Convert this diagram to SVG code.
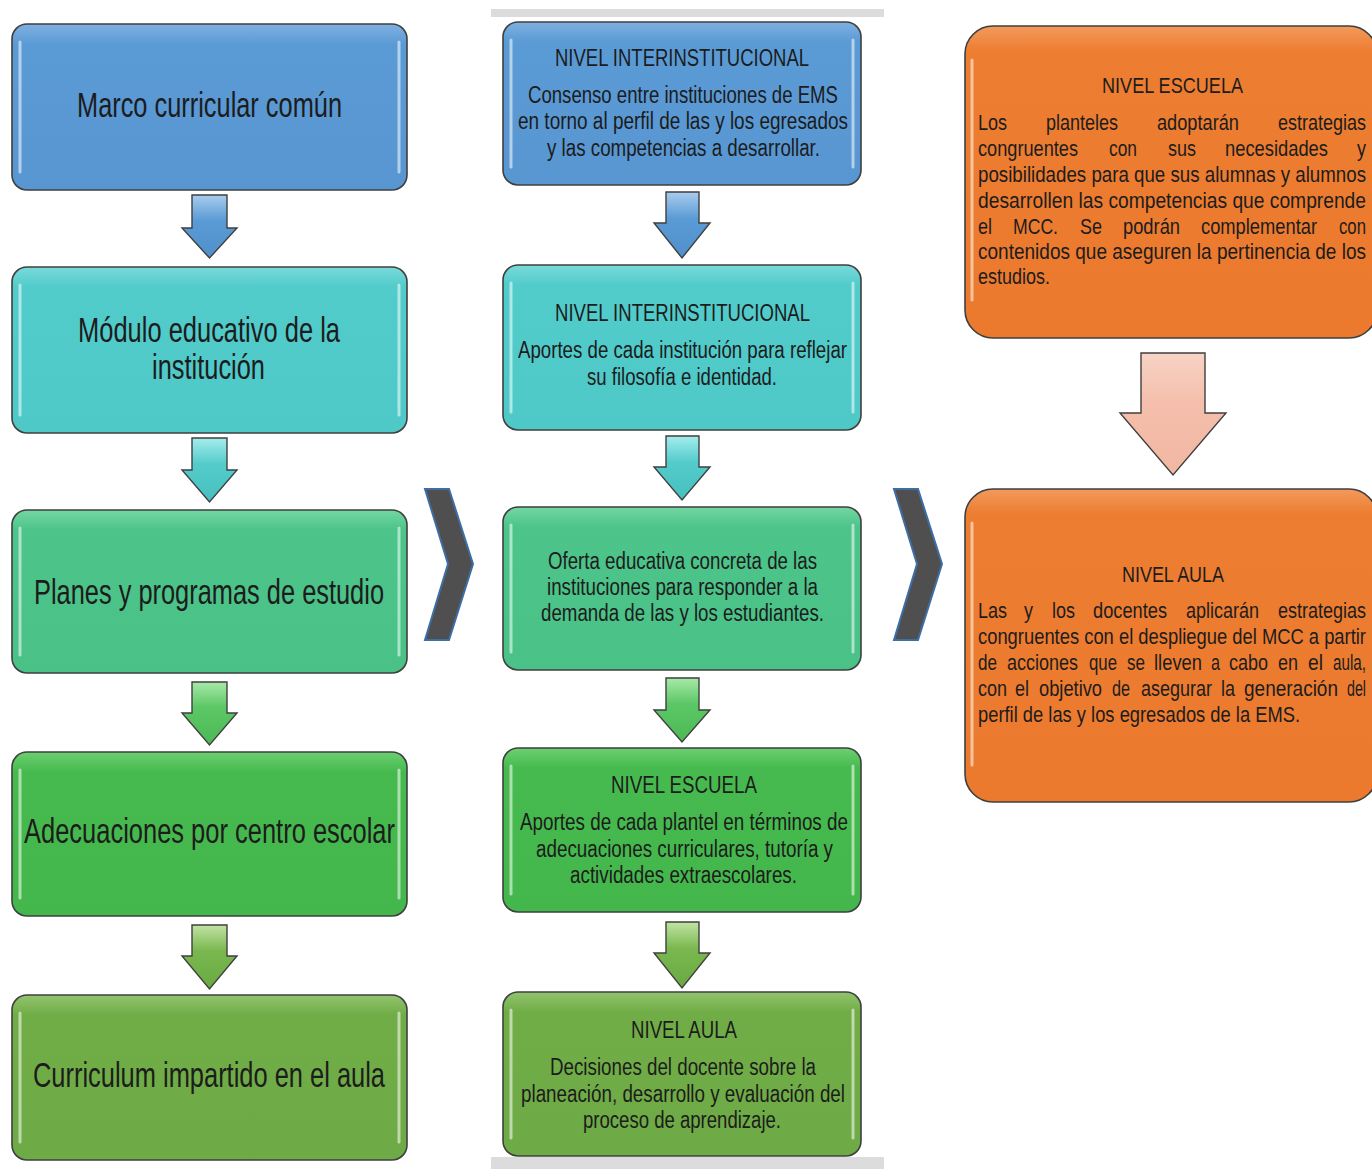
<svg xmlns="http://www.w3.org/2000/svg" width="1372" height="1169" viewBox="0 0 1372 1169">
<style>
.box{stroke:#3f3f3f;stroke-width:1.6}
.hl{stroke:#ffffff;stroke-opacity:0.55;stroke-width:3;stroke-linecap:round;fill:none}
.arr{stroke:#3f3f3f;stroke-width:1.4}
.t{font-family:"Liberation Sans",Arial,sans-serif;fill:#1c1c1c}
.big{font-size:35px}
.mid{font-size:23px}
.sm{font-size:22px}
.chev{fill:#4f4f4f;stroke:#3d6fa6;stroke-width:2}
.bar{fill:#dcdcdc}
</style>
<defs>
<linearGradient id="gBlue" x1="0" y1="0" x2="0" y2="1"><stop offset="0" stop-color="#7fb0e0"/><stop offset="0.12" stop-color="#5b9bd5"/><stop offset="1" stop-color="#5896d2"/></linearGradient>
<linearGradient id="gTeal" x1="0" y1="0" x2="0" y2="1"><stop offset="0" stop-color="#7adada"/><stop offset="0.12" stop-color="#52cbcb"/><stop offset="1" stop-color="#4fc8c8"/></linearGradient>
<linearGradient id="gMint" x1="0" y1="0" x2="0" y2="1"><stop offset="0" stop-color="#74d6a4"/><stop offset="0.12" stop-color="#4dc48a"/><stop offset="1" stop-color="#4ac187"/></linearGradient>
<linearGradient id="gGreen" x1="0" y1="0" x2="0" y2="1"><stop offset="0" stop-color="#6cd070"/><stop offset="0.12" stop-color="#47ba4f"/><stop offset="1" stop-color="#44b74c"/></linearGradient>
<linearGradient id="gOlive" x1="0" y1="0" x2="0" y2="1"><stop offset="0" stop-color="#92c46e"/><stop offset="0.12" stop-color="#71ad47"/><stop offset="1" stop-color="#6eaa45"/></linearGradient>
<linearGradient id="gOrange" x1="0" y1="0" x2="0" y2="1"><stop offset="0" stop-color="#f29a5c"/><stop offset="0.08" stop-color="#ed7d31"/><stop offset="1" stop-color="#eb7a2f"/></linearGradient>
<linearGradient id="aBlue" x1="0" y1="0" x2="0" y2="1"><stop offset="0" stop-color="#a9ccee"/><stop offset="0.4" stop-color="#5b9bd5"/><stop offset="1" stop-color="#4f8fcb"/></linearGradient>
<linearGradient id="aTeal" x1="0" y1="0" x2="0" y2="1"><stop offset="0" stop-color="#a5ecec"/><stop offset="0.4" stop-color="#55cccc"/><stop offset="1" stop-color="#47bfbf"/></linearGradient>
<linearGradient id="aGreen" x1="0" y1="0" x2="0" y2="1"><stop offset="0" stop-color="#a8e9a8"/><stop offset="0.4" stop-color="#5cc766"/><stop offset="1" stop-color="#4bb955"/></linearGradient>
<linearGradient id="aOlive" x1="0" y1="0" x2="0" y2="1"><stop offset="0" stop-color="#c2e3a4"/><stop offset="0.4" stop-color="#7ab84f"/><stop offset="1" stop-color="#6aa843"/></linearGradient>
<linearGradient id="aPink" x1="0" y1="0" x2="0" y2="1"><stop offset="0" stop-color="#f7d3c6"/><stop offset="0.4" stop-color="#f4bfac"/><stop offset="1" stop-color="#f1b7a2"/></linearGradient>
</defs>

<rect class="bar" x="491" y="9" width="393" height="8"/>
<rect class="bar" x="491" y="1157" width="393" height="12"/>

<!-- LEFT COLUMN -->
<g id="n-marco">
<rect class="box" x="12" y="24" width="395" height="166" rx="15" fill="url(#gBlue)"/>
<path class="hl" d="M20 42V172M399 42V172"/>
<text class="t big" x="77" y="117" textLength="265" lengthAdjust="spacingAndGlyphs">Marco curricular común</text>
</g>
<g id="n-modulo">
<rect class="box" x="12" y="267" width="395" height="166" rx="15" fill="url(#gTeal)"/>
<path class="hl" d="M20 285V415M399 285V415"/>
<text class="t big" x="78" y="342" textLength="262" lengthAdjust="spacingAndGlyphs">Módulo educativo de la</text>
<text class="t big" x="152" y="379" textLength="113" lengthAdjust="spacingAndGlyphs">institución</text>
</g>
<g id="n-planes">
<rect class="box" x="12" y="510" width="395" height="163" rx="15" fill="url(#gMint)"/>
<path class="hl" d="M20 528V655M399 528V655"/>
<text class="t big" x="34" y="604" textLength="350" lengthAdjust="spacingAndGlyphs">Planes y programas de estudio</text>
</g>
<g id="n-adecuaciones">
<rect class="box" x="12" y="752" width="395" height="164" rx="15" fill="url(#gGreen)"/>
<path class="hl" d="M20 770V898M399 770V898"/>
<text class="t big" x="24" y="843" textLength="371" lengthAdjust="spacingAndGlyphs">Adecuaciones por centro escolar</text>
</g>
<g id="n-curriculum">
<rect class="box" x="12" y="995" width="395" height="165" rx="15" fill="url(#gOlive)"/>
<path class="hl" d="M20 1013V1142M399 1013V1142"/>
<text class="t big" x="33" y="1087" textLength="352" lengthAdjust="spacingAndGlyphs">Curriculum impartido en el aula</text>
</g>

<!-- MIDDLE COLUMN -->
<g id="n-inter1">
<rect class="box" x="503" y="22" width="358" height="163" rx="15" fill="url(#gBlue)"/>
<path class="hl" d="M511 40V167M853 40V167"/>
<text class="t mid" x="555" y="66" textLength="254" lengthAdjust="spacingAndGlyphs">NIVEL INTERINSTITUCIONAL</text>
<text class="t mid" x="528" y="103" textLength="310" lengthAdjust="spacingAndGlyphs">Consenso entre instituciones de EMS</text>
<text class="t mid" x="518" y="129" textLength="330" lengthAdjust="spacingAndGlyphs">en torno al perfil de las y los  egresados</text>
<text class="t mid" x="547" y="156" textLength="273" lengthAdjust="spacingAndGlyphs">y las competencias a desarrollar.</text>
</g>
<g id="n-inter2">
<rect class="box" x="503" y="265" width="358" height="165" rx="15" fill="url(#gTeal)"/>
<path class="hl" d="M511 283V412M853 283V412"/>
<text class="t mid" x="555" y="321" textLength="255" lengthAdjust="spacingAndGlyphs">NIVEL INTERINSTITUCIONAL</text>
<text class="t mid" x="518" y="358" textLength="329" lengthAdjust="spacingAndGlyphs">Aportes de cada institución para reflejar</text>
<text class="t mid" x="587" y="385" textLength="190" lengthAdjust="spacingAndGlyphs">su filosofía e identidad.</text>
</g>
<g id="n-oferta">
<rect class="box" x="503" y="507" width="358" height="163" rx="15" fill="url(#gMint)"/>
<path class="hl" d="M511 525V652M853 525V652"/>
<text class="t mid" x="548" y="569" textLength="269" lengthAdjust="spacingAndGlyphs">Oferta educativa concreta de las</text>
<text class="t mid" x="547" y="595" textLength="271" lengthAdjust="spacingAndGlyphs">instituciones para responder a la</text>
<text class="t mid" x="541" y="621" textLength="283" lengthAdjust="spacingAndGlyphs">demanda de las y los estudiantes.</text>
</g>
<g id="n-escuela">
<rect class="box" x="503" y="748" width="358" height="164" rx="15" fill="url(#gGreen)"/>
<path class="hl" d="M511 766V894M853 766V894"/>
<text class="t mid" x="611" y="793" textLength="146" lengthAdjust="spacingAndGlyphs">NIVEL ESCUELA</text>
<text class="t mid" x="520" y="830" textLength="328" lengthAdjust="spacingAndGlyphs">Aportes de cada plantel en términos de</text>
<text class="t mid" x="536" y="857" textLength="297" lengthAdjust="spacingAndGlyphs">adecuaciones curriculares, tutoría y</text>
<text class="t mid" x="570" y="883" textLength="227" lengthAdjust="spacingAndGlyphs">actividades extraescolares.</text>
</g>
<g id="n-aula">
<rect class="box" x="503" y="992" width="358" height="164" rx="15" fill="url(#gOlive)"/>
<path class="hl" d="M511 1010V1138M853 1010V1138"/>
<text class="t mid" x="631" y="1038" textLength="106" lengthAdjust="spacingAndGlyphs">NIVEL AULA</text>
<text class="t mid" x="550" y="1075" textLength="266" lengthAdjust="spacingAndGlyphs">Decisiones del docente sobre la</text>
<text class="t mid" x="521" y="1102" textLength="324" lengthAdjust="spacingAndGlyphs">planeación, desarrollo y evaluación del</text>
<text class="t mid" x="583" y="1128" textLength="198" lengthAdjust="spacingAndGlyphs">proceso de aprendizaje.</text>
</g>

<!-- RIGHT COLUMN -->
<g id="n-r-escuela">
<rect class="box" x="965" y="26" width="412" height="312" rx="28" fill="url(#gOrange)"/>
<path class="hl" d="M972 60V300"/>
<text class="t sm" x="1102" y="93" textLength="141" lengthAdjust="spacingAndGlyphs">NIVEL ESCUELA</text>
<text class="t sm" y="130"><tspan x="978" textLength="29" lengthAdjust="spacingAndGlyphs">Los</tspan><tspan x="1046" textLength="72" lengthAdjust="spacingAndGlyphs">planteles</tspan><tspan x="1157" textLength="82" lengthAdjust="spacingAndGlyphs">adoptarán</tspan><tspan x="1278" textLength="88" lengthAdjust="spacingAndGlyphs">estrategias</tspan></text>
<text class="t sm" y="156"><tspan x="978" textLength="100" lengthAdjust="spacingAndGlyphs">congruentes</tspan><tspan x="1109" textLength="28" lengthAdjust="spacingAndGlyphs">con</tspan><tspan x="1168" textLength="28" lengthAdjust="spacingAndGlyphs">sus</tspan><tspan x="1225" textLength="103" lengthAdjust="spacingAndGlyphs">necesidades</tspan><tspan x="1357" textLength="9" lengthAdjust="spacingAndGlyphs">y</tspan></text>
<text class="t sm" x="978" y="182" textLength="388" lengthAdjust="spacingAndGlyphs">posibilidades para que sus alumnas y alumnos</text>
<text class="t sm" x="978" y="208" textLength="388" lengthAdjust="spacingAndGlyphs">desarrollen las competencias que comprende</text>
<text class="t sm" y="234"><tspan x="978" textLength="14" lengthAdjust="spacingAndGlyphs">el</tspan><tspan x="1013" textLength="45" lengthAdjust="spacingAndGlyphs">MCC.</tspan><tspan x="1080" textLength="22" lengthAdjust="spacingAndGlyphs">Se</tspan><tspan x="1123" textLength="57" lengthAdjust="spacingAndGlyphs">podrán</tspan><tspan x="1201" textLength="116" lengthAdjust="spacingAndGlyphs">complementar</tspan><tspan x="1339" textLength="27" lengthAdjust="spacingAndGlyphs">con</tspan></text>
<text class="t sm" x="978" y="259" textLength="388" lengthAdjust="spacingAndGlyphs">contenidos que aseguren la pertinencia de los</text>
<text class="t sm" x="978" y="284" textLength="72" lengthAdjust="spacingAndGlyphs">estudios.</text>
</g>
<g id="n-r-aula">
<rect class="box" x="965" y="489" width="412" height="313" rx="28" fill="url(#gOrange)"/>
<path class="hl" d="M972 523V765"/>
<text class="t sm" x="1122" y="582" textLength="102" lengthAdjust="spacingAndGlyphs">NIVEL AULA</text>
<text class="t sm" y="618"><tspan x="978" textLength="29" lengthAdjust="spacingAndGlyphs">Las</tspan><tspan x="1024" textLength="9" lengthAdjust="spacingAndGlyphs">y</tspan><tspan x="1052" textLength="23" lengthAdjust="spacingAndGlyphs">los</tspan><tspan x="1093" textLength="74" lengthAdjust="spacingAndGlyphs">docentes</tspan><tspan x="1186" textLength="73" lengthAdjust="spacingAndGlyphs">aplicarán</tspan><tspan x="1278" textLength="88" lengthAdjust="spacingAndGlyphs">estrategias</tspan></text>
<text class="t sm" x="978" y="644" textLength="388" lengthAdjust="spacingAndGlyphs">congruentes con el despliegue del MCC a partir</text>
<text class="t sm" y="670"><tspan x="978" textLength="19" lengthAdjust="spacingAndGlyphs">de</tspan><tspan x="1007" textLength="71" lengthAdjust="spacingAndGlyphs">acciones</tspan><tspan x="1089" textLength="28" lengthAdjust="spacingAndGlyphs">que</tspan><tspan x="1127" textLength="18" lengthAdjust="spacingAndGlyphs">se</tspan><tspan x="1154" textLength="48" lengthAdjust="spacingAndGlyphs">lleven</tspan><tspan x="1211" textLength="9" lengthAdjust="spacingAndGlyphs">a</tspan><tspan x="1229" textLength="39" lengthAdjust="spacingAndGlyphs">cabo</tspan><tspan x="1278" textLength="20" lengthAdjust="spacingAndGlyphs">en</tspan><tspan x="1308" textLength="15" lengthAdjust="spacingAndGlyphs">el</tspan><tspan x="1333" textLength="33" lengthAdjust="spacingAndGlyphs">aula,</tspan></text>
<text class="t sm" y="696"><tspan x="978" textLength="29" lengthAdjust="spacingAndGlyphs">con</tspan><tspan x="1015" textLength="14" lengthAdjust="spacingAndGlyphs">el</tspan><tspan x="1039" textLength="63" lengthAdjust="spacingAndGlyphs">objetivo</tspan><tspan x="1112" textLength="18" lengthAdjust="spacingAndGlyphs">de</tspan><tspan x="1141" textLength="71" lengthAdjust="spacingAndGlyphs">asegurar</tspan><tspan x="1221" textLength="14" lengthAdjust="spacingAndGlyphs">la</tspan><tspan x="1244" textLength="94" lengthAdjust="spacingAndGlyphs">generación</tspan><tspan x="1347" textLength="19" lengthAdjust="spacingAndGlyphs">del</tspan></text>
<text class="t sm" x="978" y="722" textLength="322" lengthAdjust="spacingAndGlyphs">perfil de las y los egresados de la EMS.</text>
</g>

<!-- CONNECTORS -->
<g id="connectors">
<path class="arr" fill="url(#aBlue)" d="M192 195H227V228H237L209.5 258L182 228H192Z"/>
<path class="arr" fill="url(#aTeal)" d="M192 438H227V470H237L209.5 502L182 470H192Z"/>
<path class="arr" fill="url(#aGreen)" d="M192 682H227V713H237L209.5 745L182 713H192Z"/>
<path class="arr" fill="url(#aOlive)" d="M192 925H227V956H237L209.5 989L182 956H192Z"/>

<path class="arr" fill="url(#aBlue)" d="M666 192H699V223H710L682 258L654 223H666Z"/>
<path class="arr" fill="url(#aTeal)" d="M666 436H699V467H710L682 500L654 467H666Z"/>
<path class="arr" fill="url(#aGreen)" d="M666 678H699V710H710L682 742L654 710H666Z"/>
<path class="arr" fill="url(#aOlive)" d="M666 922H699V953H710L682 988L654 953H666Z"/>

<path class="arr" fill="url(#aPink)" d="M1141 353H1205V413H1226L1173 475L1120 413H1141Z"/>

<path class="chev" d="M425 489H449L473 564L449 640H425L448 564Z"/>
<path class="chev" d="M894 489H918L942 564L918 640H894L917 564Z"/>
</g>
</svg>
